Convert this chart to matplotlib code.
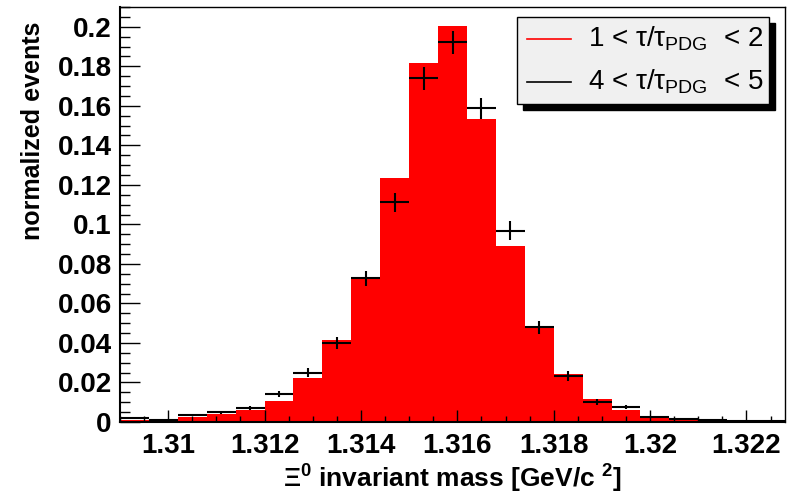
import numpy as np
import matplotlib
matplotlib.use('Agg')
import matplotlib.pyplot as plt
from matplotlib.ticker import MultipleLocator, FuncFormatter
from matplotlib.lines import Line2D
from matplotlib.patches import Rectangle

plt.rcParams['font.family'] = ['Liberation Sans', 'DejaVu Sans']
plt.rcParams['mathtext.default'] = 'regular'

# bin edges of the Xi0 mass histogram [GeV/c^2]
bin_edges = [1.3090, 1.3096, 1.3102, 1.3108, 1.3114, 1.3120, 1.3126, 1.3132,
             1.3138, 1.3144, 1.3150, 1.3156, 1.3162, 1.3168, 1.3174, 1.3180,
             1.3186, 1.3192, 1.3198, 1.3204, 1.3210, 1.3216, 1.3222, 1.3228]

# 1 < tau/tau_PDG < 2  (filled red)
short_tau = [0.0010, 0.0010, 0.0024, 0.0039, 0.0061, 0.0108, 0.0221, 0.0415,
             0.0732, 0.1233, 0.1815, 0.2003, 0.1531, 0.0892, 0.0487, 0.0243,
             0.0116, 0.0061, 0.0027, 0.0019, 0.0010, 0.0005, 0.0007]

# 4 < tau/tau_PDG < 5  (black crosses)
long_tau = [0.0019, 0.0009, 0.0035, 0.0049, 0.0072, 0.0140, 0.0250, 0.0401,
            0.0727, 0.1111, 0.1739, 0.1921, 0.1587, 0.0968, 0.0479, 0.0233,
            0.0101, 0.0076, 0.0024, 0.0017, 0.0010, 0.0005, 0.0004]
long_err = [0.0005, 0.0004, 0.0007, 0.0008, 0.0010, 0.0015, 0.0023, 0.0030,
            0.0038, 0.0048, 0.0059, 0.0060, 0.0053, 0.0048, 0.0034, 0.0023,
            0.0013, 0.0011, 0.0006, 0.0005, 0.0004, 0.0003, 0.0003]

edges = np.array(bin_edges)
centers = 0.5 * (edges[1:] + edges[:-1])
half_w = 0.5 * (edges[1:] - edges[:-1])

W, H = 796, 496
fig = plt.figure(figsize=(W / 100, H / 100), dpi=100)
ax = fig.add_axes([120 / W, 1 - 422 / H, 665 / W, 415 / H])

ax.stairs(short_tau, edges, fill=True, color='#ff0000', zorder=1)
ax.errorbar(centers, long_tau, xerr=half_w, yerr=long_err, fmt='none',
            ecolor='black', elinewidth=1.5, capsize=0, zorder=2)

ax.set_xlim(1.309, 1.3228)
ax.set_ylim(0, 0.21)

ax.xaxis.set_major_locator(MultipleLocator(0.002))
ax.xaxis.set_minor_locator(MultipleLocator(0.0005))
ax.yaxis.set_major_locator(MultipleLocator(0.02))
ax.yaxis.set_minor_locator(MultipleLocator(0.005))
ax.xaxis.set_major_formatter(FuncFormatter(lambda v, p: f'{v:g}'))
ax.yaxis.set_major_formatter(FuncFormatter(lambda v, p: f'{round(v, 4):g}'))

ax.tick_params(which='both', direction='in', top=False, right=False, width=1)
ax.tick_params(axis='x', which='major', length=12 * 0.72, pad=8)
ax.tick_params(axis='x', which='minor', length=6 * 0.72)
ax.tick_params(axis='y', which='major', length=20 * 0.72, pad=6)
ax.tick_params(axis='y', which='minor', length=10 * 0.72)
for lab in ax.get_xticklabels() + ax.get_yticklabels():
    lab.set_fontsize(20)
    lab.set_fontweight('bold')
for s in ax.spines.values():
    s.set_linewidth(1.0)
ax.spines['left'].set_linewidth(1.5)
ax.spines['bottom'].set_linewidth(1.5)

fig.text(33 / W, 1 - 22 / H, 'normalized events', rotation=90,
         ha='center', va='top', fontsize=18, fontweight='bold')
fig.text(452 / W, 1 - 488 / H, r'Ξ$^{0}$ invariant mass [GeV/c $^{2}$]',
         ha='center', va='baseline', fontsize=19, fontweight='bold')

# ROOT-style legend with hard shadow
lx0, lx1, ly0, ly1 = 517, 769, 17, 104
sh = 6
fig.patches.append(Rectangle(((lx0 + sh) / W, 1 - (ly1 + sh) / H),
                             (lx1 - lx0) / W, (ly1 - ly0) / H,
                             transform=fig.transFigure, facecolor='black',
                             edgecolor='black', zorder=10))
fig.patches.append(Rectangle((lx0 / W, 1 - ly1 / H),
                             (lx1 - lx0) / W, (ly1 - ly0) / H,
                             transform=fig.transFigure, facecolor='#f0f0f0',
                             edgecolor='black', linewidth=1.0, zorder=11))
labels = ['1 < τ/τ$_{PDG}$  < 2', '4 < τ/τ$_{PDG}$  < 5']
colors = ['#ff0000', 'black']
rows_y = [39, 82]
for lab, c, yy in zip(labels, colors, rows_y):
    fig.lines.append(Line2D([527 / W, 571 / W], [1 - yy / H, 1 - yy / H],
                            transform=fig.transFigure, color=c, lw=1.2,
                            zorder=12))
    fig.text(588 / W, 1 - yy / H, lab, ha='left', va='center',
             fontsize=20, zorder=12)

fig.savefig('out.png', dpi=100, facecolor='white')
